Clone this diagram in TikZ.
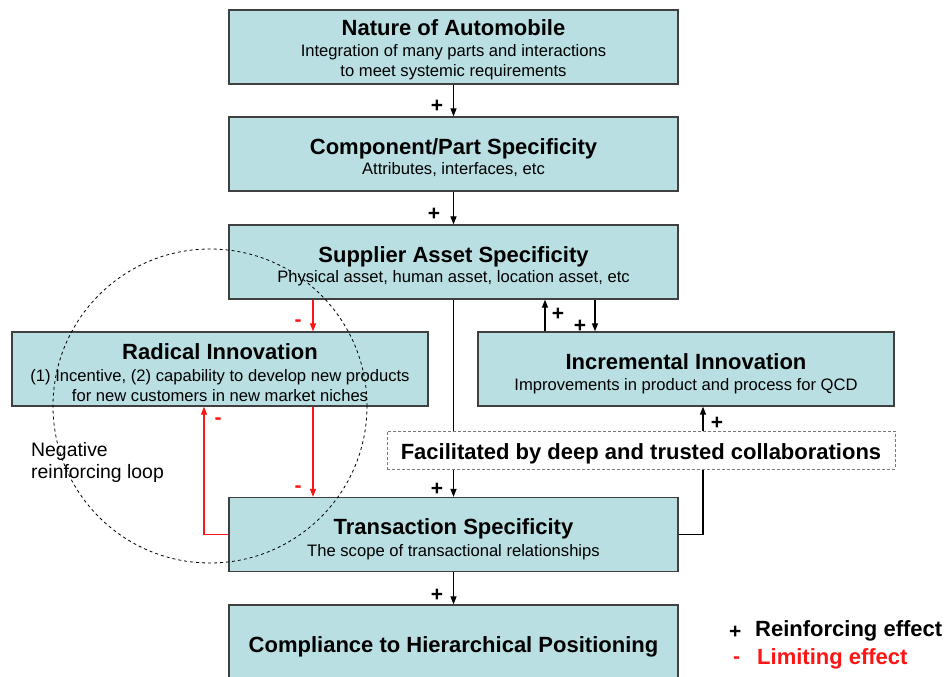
\documentclass[tikz,border=0pt]{standalone}
\usepackage{fontspec}
\setmainfont{Liberation Sans}
\usetikzlibrary{arrows.meta}
\definecolor{boxfill}{RGB}{185,223,226}
\definecolor{boxline}{RGB}{64,64,64}
\definecolor{limit}{RGB}{255,20,20}
\tikzset{
  box/.style={draw=boxline, fill=boxfill, line width=1.3pt, minimum width=449pt, minimum height=74pt, inner sep=0pt},
  sidebox/.style={box, minimum width=416pt},
  ttl/.style={anchor=base, inner sep=0pt, font=\fontsize{22}{25}\selectfont\bfseries},
  sub/.style={anchor=base, inner sep=0pt, font=\fontsize{16.6}{19}\selectfont},
  arr/.style={line width=1.2pt, -{Triangle[length=8pt,width=6pt]}},
  redarr/.style={arr, draw=limit, color=limit},
  sign/.style={anchor=base, inner sep=0pt, font=\fontsize{21}{24}\selectfont\bfseries},
  redsign/.style={sign, text=limit},
  facil/.style={draw=boxline!70, fill=white, dashed, dash pattern=on 3pt off 2pt, line width=1pt, minimum width=508pt, minimum height=38pt, inner sep=0pt},
  loop/.style={draw=black, line width=0.8pt, dash pattern=on 3pt off 3pt},
  note/.style={anchor=base west, inner sep=0pt, font=\fontsize{19.4}{22}\selectfont},
  legend/.style={anchor=base west, inner sep=0pt, font=\fontsize{22}{25}\selectfont\bfseries}
}
\begin{document}
\begin{tikzpicture}[x=1pt, y=-1pt]
\useasboundingbox (0,0) rectangle (946,677);

% main chain of boxes
\node[box] (nature) at (453.5,47) {};
\node[ttl] (nature-t) at (453.5,36) {Nature of Automobile};
\node[sub] (nature-s1) at (453.5,56.5) {Integration of many parts and interactions};
\node[sub] (nature-s2) at (453.5,76.5) {to meet systemic requirements};

\node[box] (component) at (453.5,154) {};
\node[ttl] (component-t) at (453.5,154) {Component/Part Specificity};
\node[sub] (component-s) at (453.5,174.5) {Attributes, interfaces, etc};

\node[box] (supplier) at (453.5,262) {};
\node[ttl] (supplier-t) at (453.5,262) {Supplier Asset Specificity};
\node[sub] (supplier-s) at (453.5,282.5) {Physical asset, human asset, location asset, etc};

\node[sidebox] (radical) at (220,369) {};
\node[ttl] (radical-t) at (220,359.5) {Radical Innovation};
\node[sub] (radical-s1) at (220,381) {(1) Incentive, (2) capability to develop new products};
\node[sub] (radical-s2) at (220,401) {for new customers in new market niches};

\node[sidebox] (incr) at (686,369) {};
\node[ttl] (incr-t) at (686,369) {Incremental Innovation};
\node[sub] (incr-s) at (686,390) {Improvements in product and process for QCD};

\node[box] (transaction) at (453.5,534.5) {};
\node[ttl] (transaction-t) at (453.5,534) {Transaction Specificity};
\node[sub] (transaction-s) at (453.5,556) {The scope of transactional relationships};

\node[box, minimum height=77pt] (compliance) at (453.5,643.5) {};
\node[ttl] (compliance-t) at (453.5,652) {Compliance to Hierarchical Positioning};

% reinforcing links
\draw[arr] (nature.south) -- (component.north);
\node[sign] (p1) at (437,113) {+};
\draw[arr] (component.south) -- (supplier.north);
\node[sign] (p2) at (434,220) {+};
\draw[arr] (supplier.south) -- (transaction.north);
\node[sign] (p3) at (437,495) {+};
\draw[arr] (incr.north -| 545,0) -- (supplier.south -| 545,0);
\node[sign] (p4) at (558,320) {+};
\draw[arr] (supplier.south -| 595,0) -- (incr.north -| 595,0);
\node[sign] (p5) at (580,332) {+};
\draw[arr] (transaction.east) -| (incr.south -| 703,0);
\node[sign] (p6) at (717,429) {+};
\draw[arr] (transaction.south) -- (compliance.north);
\node[sign] (p7) at (437,601) {+};

% limiting links
\draw[redarr] (supplier.south -| 313,0) -- (radical.north -| 313,0);
\node[redsign] (m1) at (298,326) {-};
\draw[redarr] (radical.south -| 313,0) -- (transaction.north -| 313,0);
\node[redsign] (m2) at (298,492) {-};
\draw[redarr] (transaction.west) -| (radical.south -| 204,0);
\node[redsign] (m3) at (218,424) {-};

% collaboration condition
\node[facil] (facil) at (641,450) {};
\node[ttl] (facil-t) at (641,459) {Facilitated by deep and trusted collaborations};

% negative loop
\node[loop, circle, minimum size=314pt, inner sep=0pt] (negloop) at (210,406) {};
\node[note] (neg1) at (31,456) {Negative};
\node[note] (neg2) at (31,478) {reinforcing loop};

% legend
\node[sign, anchor=base west] (lg-p) at (729,638) {+};
\node[legend] (lg-r) at (755,636) {Reinforcing effect};
\node[redsign, anchor=base west] (lg-m) at (733,663) {-};
\node[legend, text=limit] (lg-l) at (757,664) {Limiting effect};
\end{tikzpicture}
\end{document}
